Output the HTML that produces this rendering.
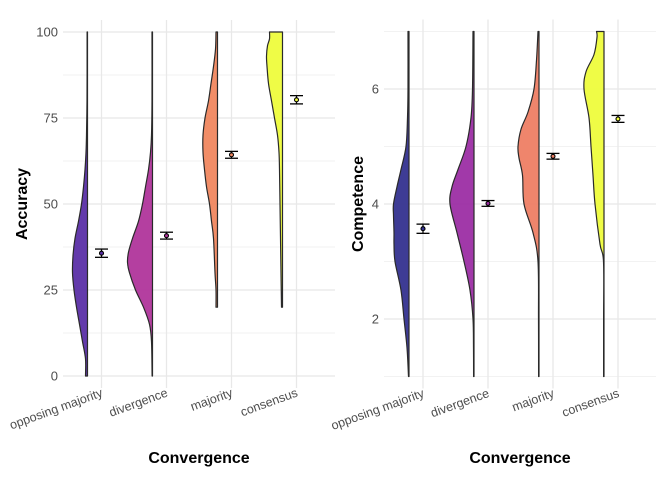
<!DOCTYPE html>
<html><head><meta charset="utf-8">
<style>
html,body{margin:0;padding:0;background:#fff;}
svg{display:block;font-family:"Liberation Sans",sans-serif;}
</style></head>
<body>
<svg id="chart" width="672" height="480" viewBox="0 0 672 480"></svg>
<script>
// ---- data ----
const categories = ["opposing majority","divergence","majority","consensus"];
const accColors = ["#5b2fa6","#b0359b","#f0875f","#eefc3c"];
const compColors = ["#34318f","#9c2ea4","#ee7e64","#eefc3c"];
// accuracy densities: [y, relative width]
const accDensY = [
 [0,5,10,15,20,25,30,35,40,45,50,55,60,65,70,80,90,100],
 [0,10,15,20,25,30,33,36,40,45,50,55,60,65,70,80,100],
 [20,25,30,40,45,50,55,60,65,70,75,80,85,90,95,100],
 [20,30,40,50,60,65,70,75,80,85,90,93,96,98,100]
];
const accDensW = [
 [2,2,5,8,11,13.5,15,14.5,12.5,9,6,4,2.5,1.5,1,0.5,0.4,0.4],
 [0.4,1,3,9,17,23,25,24,20,14,10,7,4,2,1,0.5,0.5],
 [1.5,1.5,2.5,4,6,8,11,13,14.5,14.5,12.5,9,6.5,4,2,1.5],
 [1,1.5,2,2.5,3,3.5,5,8,11,14,15.5,16,15,13,13]
];
const accMean = [35.7,40.8,64.3,80.3];
const accErr = [1.2,1.0,1.0,1.2];
const compDensY = [
 [1,1.5,2,2.5,3,3.3,3.5,3.8,4,4.3,4.6,5,5.5,6,7],
 [1,1.5,2,2.5,3,3.5,4,4.3,4.6,5,5.5,6,7],
 [1,2,3,3.5,4,4.5,4.8,5,5.3,5.6,6,6.5,7],
 [1,2,3,3.3,4,4.5,5,5.5,6,6.3,6.6,6.9,7]
];
const compDensW = [
 [0.5,2,5,8,14,15,15,15.5,15.5,12,8,3,1.5,1,1],
 [0.4,0.5,1,4,10,17,24,22,16,8,3,1.5,1],
 [0.4,0.5,1,6,15,16.5,20,21,18,11,5,2.5,1],
 [0.4,0.4,0.5,4,9,11,13,15,20,18,10,7,7.5]
];
const compMean = [3.57,4.01,4.83,5.48];
const compErr = [0.08,0.05,0.05,0.06];
const accTicks = [0,25,50,75,100];
const compTicks = [2,4,6];

const NS="http://www.w3.org/2000/svg";
const svg=document.getElementById('chart');
function mk(tag,attrs,parent){const e=document.createElementNS(NS,tag);for(const k in attrs)e.setAttribute(k,attrs[k]);(parent||svg).appendChild(e);return e;}
function smooth(pts){
  let d='';
  for(let i=0;i<pts.length-1;i++){
    const p0=pts[Math.max(i-1,0)],p1=pts[i],p2=pts[i+1],p3=pts[Math.min(i+2,pts.length-1)];
    const c1=[p1[0]+(p2[0]-p0[0])/6,p1[1]+(p2[1]-p0[1])/6];
    const c2=[p2[0]-(p3[0]-p1[0])/6,p2[1]-(p3[1]-p1[1])/6];
    d+=` C${c1[0]},${c1[1]} ${c2[0]},${c2[1]} ${p2[0]},${p2[1]}`;
  }
  return d;
}

function panel(o){
  const g=mk('g',{});
  
  
  const y=v=>o.y0+(v-o.vmin)/(o.vmax-o.vmin)*(o.y1-o.y0);
  const x=i=>o.x0+o.pad+i*o.step;
  o.minor.forEach(v=>{const l=mk('line',{x1:o.x0,x2:o.x1,y1:y(v),y2:y(v),stroke:'#f2f2f2','stroke-width':1},g);
    });
  o.ticks.forEach(v=>{const l=mk('line',{x1:o.x0,x2:o.x1,y1:y(v),y2:y(v),stroke:'#e8e8e8','stroke-width':1.3},g);
    
    const t=mk('text',{x:o.x0-5,y:y(v)+4.5,'text-anchor':'end','font-size':13,fill:'#4d4d4d'},g);t.textContent=v;
    });
  categories.forEach((c,i)=>{const l=mk('line',{x1:x(i),x2:x(i),y1:o.y1-12,y2:o.y0+12,stroke:'#e8e8e8','stroke-width':1.3},g);
    });
  categories.forEach((c,i)=>{
    const base=x(i)-14; const ys=o.dy[i], ws=o.dw[i];
    const pts=ys.map((v,k)=>[base-ws[k],y(v)]);
    let d=`M${base},${y(ys[0])} L${pts[0][0]},${pts[0][1]}`+smooth(pts)+` L${base},${y(ys[ys.length-1])} Z`;
    const p=mk('path',{d:d,fill:o.colors[i],'fill-opacity':0.95,stroke:'#2a2a2a','stroke-width':1.2,'stroke-linejoin':'round'},g);
    
    const eg=mk('g',{},g);
    
    const m=o.mean[i],e=o.err[i],cx=x(i);
    mk('line',{x1:cx,x2:cx,y1:y(m-e),y2:y(m+e),stroke:'#000','stroke-width':1.2},eg);
    mk('line',{x1:cx-6.5,x2:cx+6.5,y1:y(m-e),y2:y(m-e),stroke:'#000','stroke-width':1.3},eg);
    mk('line',{x1:cx-6.5,x2:cx+6.5,y1:y(m+e),y2:y(m+e),stroke:'#000','stroke-width':1.3},eg);
    mk('circle',{cx:cx,cy:y(m),r:2,fill:o.colors[i],stroke:'#000','stroke-width':1.1},eg);
    const t=mk('text',{transform:`translate(${cx+2},${o.y0+20}) rotate(-20)`,'text-anchor':'end','font-size':12.5,fill:'#4d4d4d'},g);
    t.textContent=c;
  });
  const xt=mk('text',{x:(o.x0+o.x1)/2,y:463,'text-anchor':'middle','font-size':16,'font-weight':'bold',fill:'#000'},g);
  xt.textContent='Convergence';
  const yt=mk('text',{transform:`translate(${o.ytx},${(o.y0+o.y1)/2}) rotate(-90)`,'text-anchor':'middle','font-size':16,'font-weight':'bold',fill:'#000'},g);
  yt.textContent=o.title;
}
panel({name:'accuracy-panel',x0:63,x1:335,y0:376,y1:32,vmin:0,vmax:100,pad:38.5,step:65,
  ticks:accTicks,minor:[12.5,37.5,62.5,87.5],dy:accDensY,dw:accDensW,mean:accMean,err:accErr,colors:accColors,title:'Accuracy',ytx:27});
panel({name:'competence-panel',x0:384,x1:656,y0:376.5,y1:31.5,vmin:1,vmax:7,pad:39,step:65,
  ticks:compTicks,minor:[1,3,5,7],dy:compDensY,dw:compDensW,mean:compMean,err:compErr,colors:compColors,title:'Competence',ytx:363});
</script>
</body></html>
